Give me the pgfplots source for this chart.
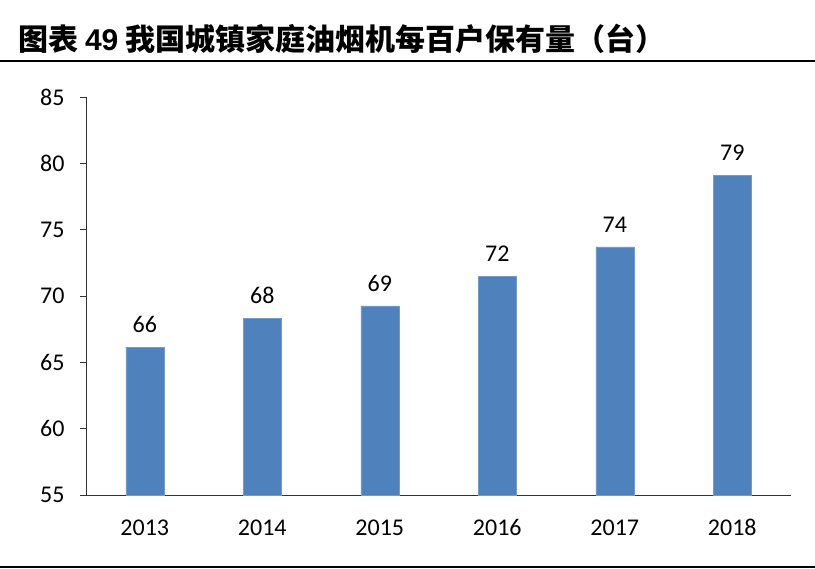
\documentclass[border=0pt]{standalone}
\usepackage{pgfplots}
\pgfplotsset{compat=1.18}
\usepackage{fontspec}
\setmainfont{Carlito}
\newfontfamily\cjk{Noto Sans CJK SC}
\definecolor{barblue}{HTML}{4F81BD}
\begin{document}
\begin{tikzpicture}
\useasboundingbox (0,0) rectangle (815bp,569bp);
% title and rules
\node[anchor=base west, inner sep=0pt] at (18bp,518bp)
  {\fontsize{30bp}{34bp}\selectfont\cjk\bfseries 图表 {\fontspec{Liberation Sans}\bfseries 49} 我国城镇家庭油烟机每百户保有量（台）};
\draw[line width=2bp] (0,508bp) -- (815bp,508bp);
\draw[line width=2.5bp] (0,2bp) -- (815bp,2bp);
\begin{axis}[
  at={(86bp,74bp)}, anchor=south west,
  scale only axis, width=705bp, height=398bp,
  ybar, bar width=38bp,
  xmin=-0.5, xmax=5.5, ymin=55, ymax=85,
  ytick={55,60,...,85},
  xtick=data,
  xticklabels={2013,2014,2015,2016,2017,2018},
  axis x line*=bottom, axis y line*=left,
  axis line style={draw=black!80, line width=0.8bp, -},
  x tick style={draw=none},
  y tick style={draw=black!80, line width=0.8bp},
  major tick length=6bp,
  tick align=outside,
  ticklabel style={font=\fontsize{24bp}{28bp}\selectfont},
  /pgf/number format/assume math mode=true,
  yticklabel style={xshift=-12bp},
  xticklabel style={yshift=-15bp},
  nodes near coords,
  point meta=explicit symbolic,
  every node near coord/.append style={font=\fontsize{24bp}{28bp}\selectfont, yshift=11bp},
  clip=false,
]
\addplot[fill=barblue, draw=barblue!80!white] coordinates {
  (0,66.15) [66]
  (1,68.3) [68]
  (2,69.25) [69]
  (3,71.5) [72]
  (4,73.7) [74]
  (5,79.1) [79]
};
\end{axis}
\end{tikzpicture}
\end{document}
